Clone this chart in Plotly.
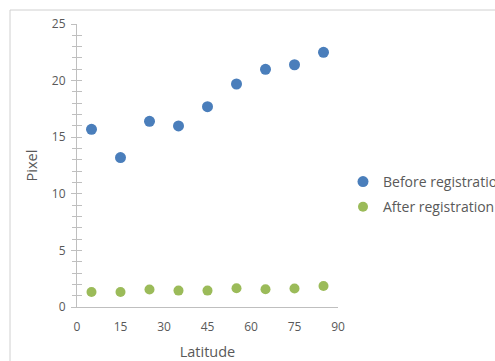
import plotly.graph_objects as go

latitude = [5, 15, 25, 35, 45, 55, 65, 75, 85]
before_registration = [15.7, 13.2, 16.4, 16.0, 17.7, 19.7, 21.0, 21.4, 22.5]
after_registration = [1.33, 1.33, 1.54, 1.45, 1.45, 1.66, 1.57, 1.63, 1.85]
x_ticks = [0, 15, 30, 45, 60, 75, 90]

W, H = 495, 361
L, R, T, B = 77, 157, 24, 54
pw, ph = W - L - R, H - T - B

fig = go.Figure()
fig.add_trace(go.Scatter(x=latitude, y=before_registration, mode="markers",
                         name="Before registration", legendgroup="a",
                         marker=dict(color="#4a7ebb", size=11)))
fig.add_trace(go.Scatter(x=latitude, y=after_registration, mode="markers",
                         name="After registration", legendgroup="b",
                         marker=dict(color="#9bbb59", size=10)))
fig.add_trace(go.Scatter(x=[None], y=[None], yaxis="y2", showlegend=False, hoverinfo="skip"))

tickfont = dict(family="Open Sans, Noto Sans, sans-serif", size=12, color="#595959")
fig.update_layout(
    width=W, height=H,
    margin=dict(l=L, r=R, t=T, b=B, autoexpand=False),
    paper_bgcolor="white", plot_bgcolor="white",
    font=dict(family="Open Sans, Noto Sans, sans-serif", color="#595959"),
    xaxis=dict(range=[0, 90], tickvals=x_ticks, showgrid=False, zeroline=False,
               showline=True, linecolor="#bfbfbf", linewidth=1, ticks="",
               tickfont=tickfont, automargin=False, ticklabelstandoff=9,
               title=dict(text="Latitude", font=dict(size=14.5, color="#595959"), standoff=12)),
    yaxis=dict(range=[0, 25], tickmode="linear", tick0=0, dtick=5, showgrid=False, zeroline=False,
               showline=True, linecolor="#bfbfbf", linewidth=1,
               ticks="outside", ticklen=5, tickcolor="#bfbfbf", ticklabelstandoff=3,
               minor=dict(tickmode="linear", tick0=0, dtick=1, ticks="outside", ticklen=4, tickcolor="#bfbfbf"),
               tickfont=tickfont, automargin=False,
               title=dict(text="Pixel", font=dict(size=14.5, color="#595959"), standoff=10)),
    yaxis2=dict(range=[0, 25], overlaying="y", side="left", showgrid=False, zeroline=False,
                showticklabels=False, tickmode="linear", tick0=0, dtick=5,
                ticks="inside", ticklen=5, tickcolor="#bfbfbf", automargin=False,
                minor=dict(tickmode="linear", tick0=0, dtick=1, ticks="inside", ticklen=5, tickcolor="#bfbfbf")),
    legend=dict(x=(343 - L) / pw, y=(H - B - 166) / ph, xanchor="left", yanchor="top",
                font=dict(size=14, color="#595959"), itemwidth=30,
                bgcolor="rgba(0,0,0,0)", tracegroupgap=4),
    showlegend=True,
)

x10 = (10 - L) / pw
y10 = (H - B - 10) / ph
fig.add_shape(type="line", xref="paper", yref="paper", x0=x10, x1=2, y0=y10, y1=y10,
              line=dict(color="#d0d0d0", width=1))
fig.add_shape(type="line", xref="paper", yref="paper", x0=x10, x1=x10, y0=y10, y1=-1,
              line=dict(color="#d0d0d0", width=1))

fig.write_html("out.html", post_script="document.body.style.margin='0';",
               config={"displayModeBar": False})
